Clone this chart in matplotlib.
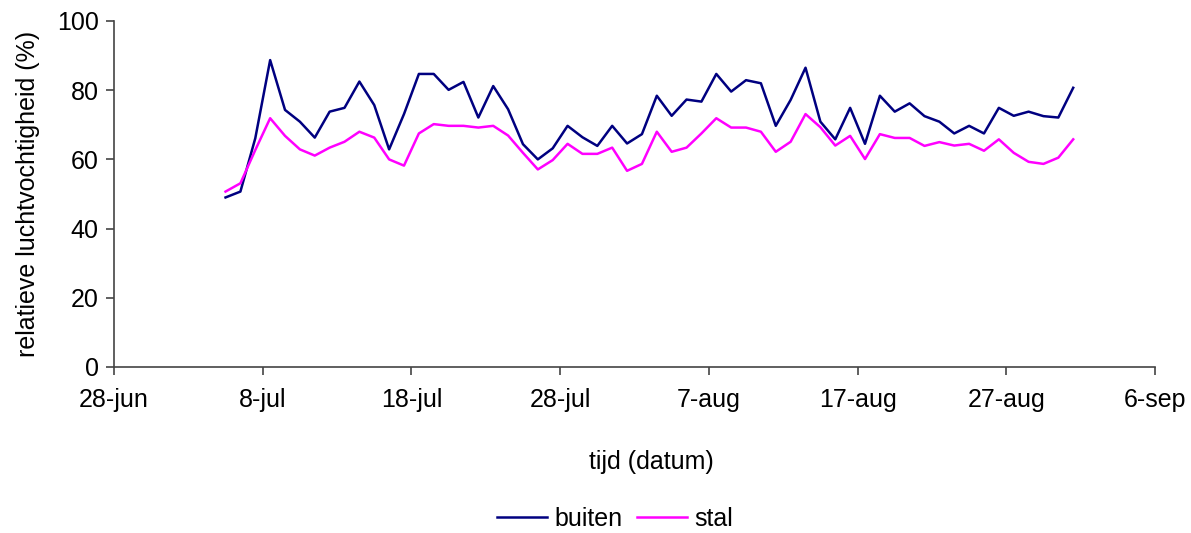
import numpy as np
import pandas as pd
import matplotlib
matplotlib.use("Agg")
import matplotlib.pyplot as plt
import matplotlib.dates as mdates
from matplotlib.ticker import FuncFormatter

plt.rcParams['font.family'] = ['Liberation Sans', 'DejaVu Sans']

# metingen, één per dag (midden van de dag)
start = pd.Timestamp('2005-07-05 12:00')
buiten = [49.0, 50.7, 66.1, 88.7, 74.3, 70.9, 66.3, 73.8, 74.9, 82.5,
          75.7, 62.9, 73.1, 84.7, 84.7, 80.1, 82.4, 72.1, 81.2, 74.5,
          64.4, 60.0, 63.2, 69.7, 66.4, 63.9, 69.7, 64.6, 67.3, 78.4,
          72.6, 77.3, 76.7, 84.7, 79.6, 82.9, 82.0, 69.7, 77.2, 86.5,
          70.9, 65.8, 74.9, 64.5, 78.4, 73.8, 76.2, 72.5, 70.9, 67.5,
          69.7, 67.5, 74.9, 72.6, 73.8, 72.5, 72.1, 80.7]
stal = [50.7, 53.1, 62.7, 71.9, 66.8, 62.9, 61.1, 63.4, 65.1, 68.0,
        66.3, 60.0, 58.2, 67.5, 70.2, 69.7, 69.7, 69.2, 69.7, 66.9,
        61.9, 57.1, 59.8, 64.5, 61.6, 61.6, 63.4, 56.7, 58.7, 68.0,
        62.2, 63.4, 67.5, 71.9, 69.2, 69.2, 68.0, 62.2, 65.1, 73.1,
        69.3, 64.0, 66.8, 60.1, 67.3, 66.2, 66.2, 63.9, 65.0, 64.0,
        64.5, 62.5, 65.8, 61.9, 59.3, 58.7, 60.5, 65.8]
dagen = pd.date_range(start, periods=len(buiten), freq='D')
ticks = pd.date_range('2005-06-28', '2005-09-06', freq='10D')

maanden = ['', 'jan', 'feb', 'mrt', 'apr', 'mei', 'jun', 'jul', 'aug', 'sep', 'okt', 'nov', 'dec']

def datum_label(x, pos):
    d = mdates.num2date(x)
    return f"{d.day}-{maanden[d.month]}"

fig = plt.figure(figsize=(11.91, 5.33), dpi=100)
ax = fig.add_axes([114/1191, 1 - 367/533, (1155 - 114)/1191, (367 - 21)/533])

ax.plot(dagen, buiten, color='#000080', lw=1.8, label='buiten')
ax.plot(dagen, stal, color='#FF00FF', lw=1.8, label='stal')

ax.set_xlim(ticks[0], ticks[-1])
ax.set_ylim(0, 100)
ax.set_yticks(np.arange(0, 101, 20))
ax.set_xticks(ticks)
ax.xaxis.set_major_formatter(FuncFormatter(datum_label))

ax.spines['top'].set_visible(False)
ax.spines['right'].set_visible(False)
for s in ('left', 'bottom'):
    ax.spines[s].set_color('#444444')
    ax.spines[s].set_linewidth(1.2)
ax.tick_params(axis='both', labelsize=18, length=6, color='#444444', width=1.2)
ax.tick_params(axis='x', pad=9)
ax.tick_params(axis='y', pad=5)

ax.set_ylabel('relatieve luchtvochtigheid (%)', fontsize=18, labelpad=12)
fig.text(651/1191, 1 - 462/533, 'tijd (datum)', fontsize=18, ha='center', va='center')

ax.legend(loc='center', bbox_to_anchor=(615/1191, 1 - 519/533), bbox_transform=fig.transFigure,
          ncol=2, frameon=False, fontsize=18, handlelength=2.0, handletextpad=0.3,
          columnspacing=0.6)

fig.savefig('out.png', dpi=100)
